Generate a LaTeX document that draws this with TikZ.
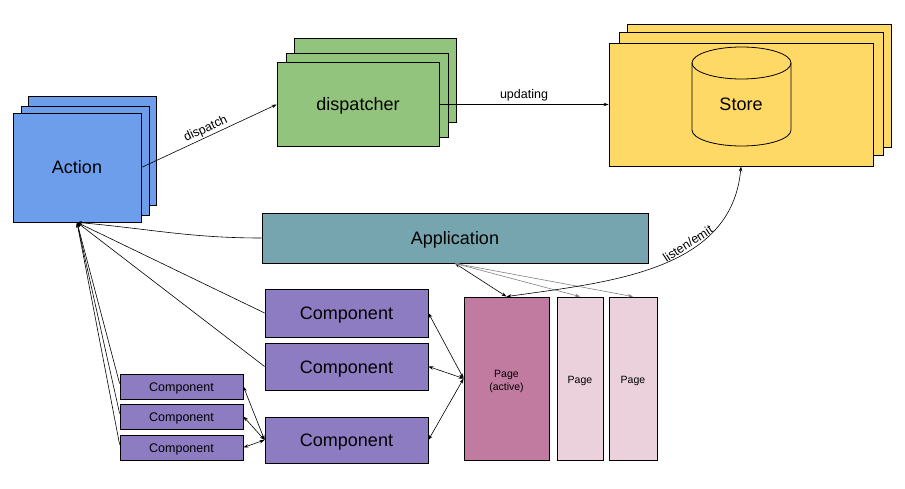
\documentclass[tikz,border=0pt]{standalone}
\usepackage{fontspec}
\setmainfont{Liberation Sans}
\usetikzlibrary{arrows.meta}
\definecolor{cblue}{HTML}{6D9EEB}
\definecolor{cgreen}{HTML}{93C47D}
\definecolor{cyellow}{HTML}{FFD966}
\definecolor{cteal}{HTML}{76A5AF}
\definecolor{cpurple}{HTML}{8E7CC3}
\definecolor{cmag}{HTML}{C27BA0}
\definecolor{cpink}{HTML}{EAD1DC}
\tikzset{
  box/.style={draw=black, line width=0.8pt, inner sep=0pt, rectangle},
  big/.style={font=\fontsize{18}{20}\selectfont, text height=13pt, text depth=0pt},
  small/.style={font=\fontsize{12.5}{14}\selectfont, text height=9pt, text depth=0pt},
  actionbox/.style={box, big, fill=cblue, minimum width=128pt, minimum height=109pt},
  dispbox/.style={box, big, fill=cgreen, minimum width=162pt, minimum height=84pt},
  storebox/.style={box, fill=cyellow, minimum width=264pt, minimum height=123pt},
  bigcomp/.style={box, big, fill=cpurple, minimum width=163pt},
  smallcomp/.style={box, small, fill=cpurple, minimum width=123pt, minimum height=25pt},
  pagebox/.style={box, minimum height=163pt, font=\fontsize{10.5}{12.5}\selectfont},
  arr/.style={-{Stealth[length=5pt,width=3.5pt]}, line width=0.6pt},
  biarr/.style={{Stealth[length=5pt,width=3.5pt]}-{Stealth[length=5pt,width=3.5pt]}, line width=0.6pt},
  lbl/.style={font=\fontsize{12.5}{14}\selectfont, inner sep=1.5pt}
}
\begin{document}
\begin{tikzpicture}[x=1pt,y=1pt]
\useasboundingbox (0,0) rectangle (905,488);
% Action stack
\node[actionbox] (action3) at (92,337) {};
\node[actionbox] (action2) at (85,327.5) {};
\node[actionbox] (action) at (77,320.5) {Action};
% Dispatcher stack
\node[dispbox] (disp3) at (375,408) {};
\node[dispbox] (disp2) at (367,393) {};
\node[dispbox] (disp) at (358,383.5) {dispatcher};
% Store stack
\node[storebox] (store3) at (759.5,402.5) {};
\node[storebox] (store2) at (751,394.5) {};
\node[storebox] (store) at (741,383.5) {};
% cylinder
\fill[cyellow] (692,425) -- (692,358) arc[start angle=180,end angle=360,x radius=49.5pt,y radius=16pt] -- (791,425) arc[start angle=0,end angle=180,x radius=49.5pt,y radius=16pt] -- cycle;
\draw[line width=0.8pt] (692,425) -- (692,358) arc[start angle=180,end angle=360,x radius=49.5pt,y radius=16pt] -- (791,425) arc[start angle=0,end angle=180,x radius=49.5pt,y radius=16pt];
\draw[line width=0.8pt] (692,425) arc[start angle=180,end angle=360,x radius=49.5pt,y radius=16pt];
\node[big, inner sep=0pt] (storelbl) at (741,383.5) {Store};
% Application
\node[box, big, fill=cteal, minimum width=386pt, minimum height=50pt] (app) at (455,250) {Application};
% Components
\node[bigcomp, minimum height=48pt] (comp1) at (346.5,175) {Component};
\node[bigcomp, minimum height=47pt] (comp2) at (346.5,121.5) {Component};
\node[bigcomp, minimum height=46pt] (comp3) at (346.5,48) {Component};
\node[smallcomp] (sc1) at (181.5,101.5) {Component};
\node[smallcomp] (sc2) at (181.5,71.5) {Component};
\node[smallcomp] (sc3) at (181.5,40.5) {Component};
% Pages
\node[pagebox, fill=cmag, minimum width=85pt] (page1) at (506.5,109.5) {\raisebox{-3pt}[\height][\depth]{\begin{tabular}{@{}c@{}}Page\\(active)\end{tabular}}};
\node[pagebox, fill=cpink, minimum width=46pt] (page2) at (580,109.5) {\raisebox{-2pt}[\height][\depth]{Page}};
\node[pagebox, fill=cpink, minimum width=48pt] (page3) at (633,109.5) {\raisebox{-2pt}[\height][\depth]{Page}};
% Connectors
\draw[arr] (action.east) -- node[lbl, sloped, above] {dispatch} (disp.west);
\draw[arr] (disp.east) -- node[lbl, above=2pt] {updating} (store.west);
\draw[arr] (app.west) to[out=180,in=-5] (action.south);
\draw[arr] (comp1.west) -- (action.south);
\draw[arr] (comp2.west) -- (action.south);
\draw[arr] ([yshift=3pt]sc1.west) -- (action.south);
\draw[arr] ([yshift=3pt]sc2.west) -- (action.south);
\draw[arr] ([yshift=3pt]sc3.west) -- (action.south);
\draw[biarr] (comp1.east) -- (page1.west);
\draw[biarr] (comp2.east) -- (page1.west);
\draw[biarr] (comp3.east) -- (page1.west);
\draw[biarr] (sc1.east) -- (comp3.west);
\draw[biarr] (sc2.east) -- (comp3.west);
\draw[biarr] (sc3.east) -- (comp3.west);
\draw[biarr] (app.south) -- (page1.north);
\draw[biarr, draw=gray] (app.south) -- (page2.north);
\draw[biarr, draw=gray] (app.south) -- (page3.north);
\draw[biarr] (store.south) to[out=265,in=8] node[lbl, sloped, above, pos=0.37] {listen/emit} (page1.north);
\end{tikzpicture}
\end{document}
